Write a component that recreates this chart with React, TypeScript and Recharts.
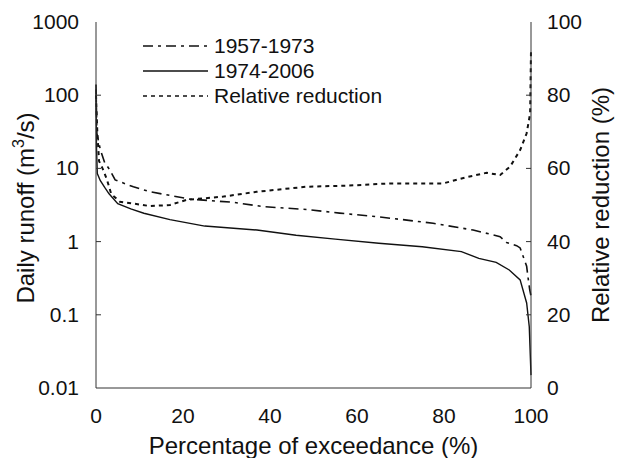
import React from 'react';
import { ComposedChart, Line, XAxis, YAxis, Label } from 'recharts';

// flow duration curves
const xRunoff5773 = [0, 0.2, 1, 2, 3.2, 4.4, 8.6, 12.4, 21.6, 31.6, 38.5, 48.4, 56, 64.5, 71, 77.5, 86.7, 92.9, 94.4, 96.7, 97.5, 99, 99.3, 99.7, 100];
const runoff5773 = [140, 30, 18, 12, 9.5, 6.95, 5.6, 4.8, 3.8, 3.44, 3.0, 2.75, 2.45, 2.19, 1.98, 1.78, 1.44, 1.17, 0.97, 0.88, 0.82, 0.46, 0.33, 0.22, 0.18];

const xRunoff7406 = [0, 0.1, 0.3, 1, 2, 3, 5, 8, 11, 17, 25, 37, 46, 55, 65, 75, 84, 88, 92, 95, 97.5, 99, 99.6, 100];
const runoff7406 = [120, 20, 8.5, 6.8, 5.5, 4.5, 3.3, 2.8, 2.44, 2.0, 1.63, 1.44, 1.22, 1.08, 0.95, 0.85, 0.73, 0.59, 0.52, 0.41, 0.3, 0.145, 0.069, 0.015];

const xReduction = [0, 0.3, 0.7, 1.5, 2.5, 3.5, 5.5, 8, 12.4, 17, 20.8, 29.3, 36.9, 48.4, 58, 67.6, 79.8, 85.2, 89.8, 92.9, 95.2, 97.5, 99, 99.8, 100];
const reduction = [80, 70, 62, 60, 57, 53, 50.9, 50.5, 49.7, 50, 51.4, 52.3, 53.6, 55, 55.3, 55.9, 55.9, 57.6, 58.8, 58.2, 60.5, 65, 69.6, 75, 92];

const xTicks = [0, 20, 40, 60, 80, 100];
const leftTicks = [0.01, 0.1, 1, 10, 100, 1000];
const rightTicks = [0, 20, 40, 60, 80, 100];

const legendNames = ['1957-1973', '1974-2006', 'Relative reduction'];
const legendDashes = ['10 5 3 5', '', '4 4'];

const zip = (xs: number[], vs: number[]) => xs.map((x, i) => ({ x, v: vs[i] }));

const FONT = '"Liberation Sans", Arial, sans-serif';
const AXIS = '#333';
const INK = '#111';
const PLOT_LEFT = 96;
const PLOT_RIGHT = 531;

const LeftTick = (props: any) => {
  const { y, payload } = props;
  const isEnd = payload.value === 0.01 || payload.value === 1000;
  return (
    <g>
      {!isEnd && <line x1={PLOT_LEFT} x2={PLOT_LEFT + 5} y1={y} y2={y} stroke={AXIS} />}
      <text x={PLOT_LEFT - 17} y={y} dy={7} textAnchor="end" fill={INK} fontSize={21} fontFamily={FONT}>
        {payload.value}
      </text>
    </g>
  );
};

const RightTick = (props: any) => {
  const { y, payload } = props;
  const isEnd = payload.value === 0 || payload.value === 100;
  return (
    <g>
      {!isEnd && <line x1={PLOT_RIGHT - 5} x2={PLOT_RIGHT} y1={y} y2={y} stroke={AXIS} />}
      <text x={PLOT_RIGHT + 16} y={y} dy={7} textAnchor="start" fill={INK} fontSize={21} fontFamily={FONT}>
        {payload.value}
      </text>
    </g>
  );
};

const App = () => {
  return (
    <div style={{ position: 'absolute', left: 0, top: 0, width: 618, height: 458, background: 'white', fontFamily: FONT }}>
      <ComposedChart width={618} height={458} margin={{ top: 22, right: 27, left: 36, bottom: 30 }}>
        <XAxis
          xAxisId="bottom"
          dataKey="x"
          type="number"
          domain={[0, 100]}
          ticks={xTicks}
          tickLine={false}
          tickMargin={14}
          height={40}
          axisLine={{ stroke: AXIS }}
          tick={{ fill: INK, fontSize: 21, fontFamily: FONT }}
        >
          <Label
            value="Percentage of exceedance (%)"
            position="insideBottom"
            offset={-26}
            style={{ fill: INK, fontSize: 24, fontFamily: FONT }}
          />
        </XAxis>
        <XAxis xAxisId="top" orientation="top" type="number" domain={[0, 100]} tick={false} tickLine={false} height={0} axisLine={{ stroke: AXIS }} />
        <YAxis
          yAxisId="left"
          scale="log"
          domain={[0.01, 1000]}
          ticks={leftTicks}
          allowDataOverflow
          width={60}
          tickLine={false}
          axisLine={{ stroke: AXIS }}
          tick={<LeftTick />}
        />
        <YAxis
          yAxisId="right"
          orientation="right"
          domain={[0, 100]}
          ticks={rightTicks}
          width={60}
          tickLine={false}
          axisLine={{ stroke: AXIS }}
          tick={<RightTick />}
        />
        <Line
          xAxisId="bottom"
          yAxisId="left"
          data={zip(xRunoff5773, runoff5773)}
          dataKey="v"
          name={legendNames[0]}
          stroke={INK}
          strokeWidth={1.6}
          strokeDasharray={legendDashes[0]}
          dot={false}
          isAnimationActive={false}
        />
        <Line
          xAxisId="bottom"
          yAxisId="left"
          data={zip(xRunoff7406, runoff7406)}
          dataKey="v"
          name={legendNames[1]}
          stroke={INK}
          strokeWidth={1.4}
          dot={false}
          isAnimationActive={false}
        />
        <Line
          xAxisId="bottom"
          yAxisId="right"
          data={zip(xReduction, reduction)}
          dataKey="v"
          name={legendNames[2]}
          stroke={INK}
          strokeWidth={2}
          strokeDasharray={legendDashes[2]}
          dot={false}
          isAnimationActive={false}
        />
      </ComposedChart>

      {/* axis titles and legend */}
      <svg width={618} height={458} style={{ position: 'absolute', left: 0, top: 0, pointerEvents: 'none' }}>
        <text x={34} y={208} transform="rotate(-90, 34, 208)" textAnchor="middle" fontSize={24} fontFamily={FONT} fill={INK}>
          Daily runoff (m<tspan dy={-10} fontSize={16}>3</tspan><tspan dy={10}>/s)</tspan>
        </text>
        <text x={609} y={205} transform="rotate(-90, 609, 205)" textAnchor="middle" fontSize={24} fontFamily={FONT} fill={INK}>
          Relative reduction (%)
        </text>
        {legendNames.map((name, i) => {
          const y = 46 + i * 25;
          return (
            <g key={name}>
              <line x1={143} x2={208} y1={y} y2={y} stroke={INK} strokeWidth={i === 2 ? 1.6 : 1.4} strokeDasharray={legendDashes[i] || undefined} />
              <text x={214} y={y} dy={7} fontSize={21} fontFamily={FONT} fill={INK}>{name}</text>
            </g>
          );
        })}
      </svg>
    </div>
  );
};

export default App;
